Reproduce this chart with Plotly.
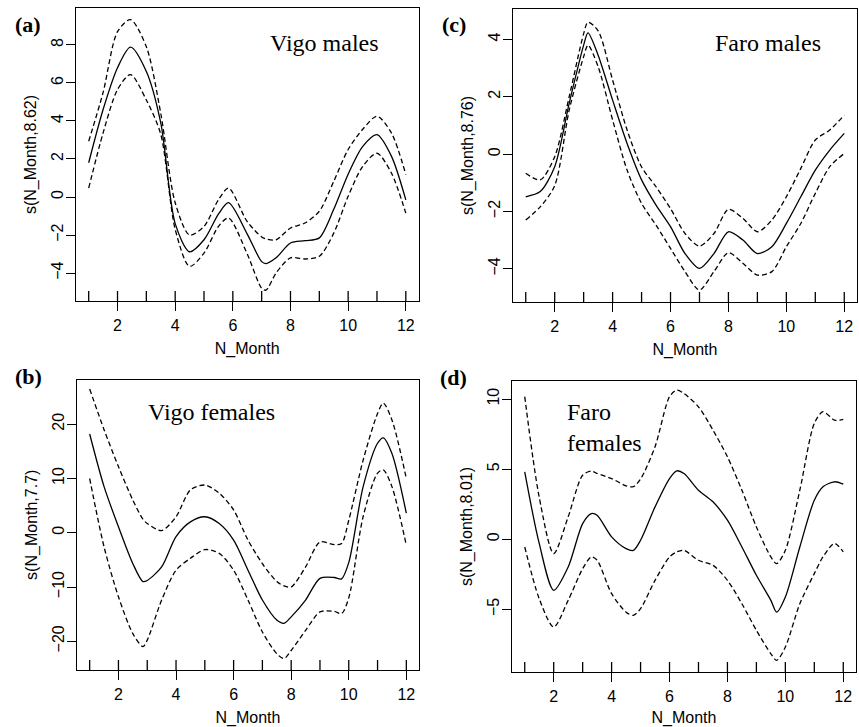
import plotly.graph_objects as go

# ---------------------------------------------------------------------------
# GAM smooth terms of N_Month with +/- 2 SE bands for four sample groups
# ---------------------------------------------------------------------------

# (a) Vigo males
A_MONTH = [1, 1.5, 2, 2.45, 3, 3.5, 4, 4.5, 5, 5.5, 5.85, 6.5, 7, 7.15, 7.5, 8,
           8.5, 9, 9.5, 10, 10.5, 11, 11.5, 12]
A_FIT = [1.8, 4.6, 6.8, 7.88, 6.6, 3.9, -1.4, -2.88, -2.25, -0.9, -0.3, -1.95,
         -3.4, -3.5, -3.2, -2.42, -2.3, -2.15, -0.65, 1.2, 2.65, 3.28, 2.15, -0.15]
A_UPPER = [2.93, 5.5, 8.7, 9.33, 7.9, 4.4, -0.3, -2.0, -1.55, -0.15, 0.47, -1.3,
           -2.1, -2.2, -2.25, -1.63, -1.37, -0.75, 0.82, 2.5, 3.55, 4.25, 3.37, 1.18]
A_LOWER = [0.47, 3.37, 5.65, 6.44, 5.1, 3.3, -1.7, -3.65, -2.95, -1.55, -1.1, -3.0,
           -4.8, -4.9, -4.0, -3.2, -3.26, -3.12, -1.9, 0.04, 1.6, 2.3, 1.26, -0.85]

# (c) Faro males
C_MONTH = [1, 1.5, 2, 2.5, 3, 3.15, 3.5, 4, 4.5, 5, 5.5, 6, 6.5, 7, 7.5, 8, 8.5,
           9, 9.5, 10, 10.5, 11, 11.5, 12]
C_FIT = [-1.49, -1.31, -0.44, 1.77, 3.8, 4.23, 3.45, 1.88, 0.37, -0.9, -1.78, -2.53,
         -3.47, -3.99, -3.47, -2.71, -3.0, -3.47, -3.23, -2.42, -1.49, -0.56, 0.14, 0.72]
C_UPPER = [-0.67, -0.9, -0.09, 2.0, 4.2, 4.6, 4.3, 2.58, 0.84, -0.45, -1.14, -1.9,
           -2.77, -3.21, -2.77, -1.93, -2.24, -2.71, -2.3, -1.49, -0.5, 0.49, 0.84, 1.36]
C_LOWER = [-2.3, -1.84, -1.1, 1.53, 3.4, 3.8, 3.05, 1.19, -0.56, -1.72, -2.48, -3.29,
           -4.1, -4.74, -4.1, -3.44, -3.81, -4.22, -4.1, -3.23, -2.42, -1.37, -0.44, 0.02]

# (b) Vigo females
B_MONTH = [1, 1.5, 2, 2.5, 2.85, 3, 3.5, 4, 4.5, 5, 5.5, 6, 6.5, 7, 7.5, 7.75, 8,
           8.5, 9, 9.5, 9.75, 10, 10.5, 11, 11.2, 11.5, 12]
B_FIT = [18.2, 8.5, 1.1, -5.7, -9.0, -8.8, -6.3, -0.7, 2.0, 2.95, 1.7, -1.35, -6.9,
         -12.4, -16.1, -16.7, -15.5, -12.4, -8.4, -8.25, -8.5, -5.5, 8.5, 16.5, 17.5,
         14.6, 3.6]
B_UPPER = [26.5, 19.0, 12.2, 6.0, 2.5, 1.7, 0.4, 2.95, 7.9, 8.8, 7.3, 4.2, -1.35,
           -5.7, -9.0, -9.8, -10.0, -6.3, -1.7, -2.2, -2.0, 2.3, 13.4, 22.0, 23.9,
           20.8, 10.0]
B_LOWER = [10.0, -2.6, -11.8, -18.6, -21.0, -19.8, -12.4, -6.9, -4.7, -3.1, -3.8,
           -6.9, -12.4, -18.3, -22.3, -23.2, -21.7, -18.0, -14.6, -14.5, -14.9, -12.0,
           3.0, 11.0, 11.6, 8.5, -2.3]

# (d) Faro females
D_MONTH = [1, 1.5, 2, 2.5, 3, 3.3, 3.5, 4, 4.5, 4.75, 5, 5.5, 6, 6.25, 6.5, 7, 7.5,
           8, 8.5, 9, 9.5, 9.7, 10, 10.5, 11, 11.3, 11.7, 12]
D_FIT = [4.8, -0.3, -3.64, -1.98, 1.12, 1.83, 1.71, 0.17, -0.67, -0.8, -0.07, 2.31,
         4.33, 4.88, 4.69, 3.5, 2.67, 1.36, -0.55, -2.57, -4.36, -5.2, -4.12, -0.55,
         2.79, 3.75, 4.1, 3.93]
D_UPPER = [10.17, 3.0, -1.02, 1.6, 4.57, 4.86, 4.69, 4.33, 3.81, 3.75, 4.3, 6.6,
           10.17, 10.64, 10.4, 9.45, 7.79, 5.88, 3.5, 0.88, -1.26, -1.74, -0.79, 3.5,
           8.26, 9.1, 8.5, 8.55]
D_LOWER = [-0.55, -4.24, -6.26, -4.36, -2.1, -1.26, -1.5, -3.88, -5.2, -5.43, -4.95,
           -2.93, -1.26, -0.9, -0.79, -1.5, -1.86, -2.93, -4.6, -6.5, -8.17, -8.64,
           -7.69, -4.6, -2.45, -1.26, -0.3, -0.9]

RUG_MONTHS = list(range(1, 13))
X_TICKS = [2, 4, 6, 8, 10, 12]
Y_TICKS = {
    "a": [-4, -2, 0, 2, 4, 6, 8],
    "c": [-4, -2, 0, 2, 4],
    "b": [-20, -10, 0, 10, 20],
    "d": [-5, 0, 5, 10],
}
Y_TITLES = {
    "a": "s(N_Month,8.62)",
    "c": "s(N_Month,8.76)",
    "b": "s(N_Month,7.7)",
    "d": "s(N_Month,8.01)",
}

W, H = 859, 727
SANS = "Liberation Sans, Arial, sans-serif"
SERIF = "Liberation Serif, Times New Roman, serif"

# panel boxes in pixels: left, right, top, bottom ; y-range
PANELS = {
    "a": dict(box=(76, 418.5, 8, 301), yr=(-5.47, 9.94), idx=1,
              data=(A_MONTH, A_FIT, A_UPPER, A_LOWER)),
    "c": dict(box=(513, 857, 9, 302), yr=(-5.16, 5.06), idx=2,
              data=(C_MONTH, C_FIT, C_UPPER, C_LOWER)),
    "b": dict(box=(77, 419, 379.5, 670), yr=(-25.3, 28.25), idx=3,
              data=(B_MONTH, B_FIT, B_UPPER, B_LOWER)),
    "d": dict(box=(512, 856, 381, 672), yr=(-9.47, 11.29), idx=4,
              data=(D_MONTH, D_FIT, D_UPPER, D_LOWER)),
}

fig = go.Figure()
layout = {}
shapes = []

for key, p in PANELS.items():
    i = p["idx"]
    xa = "x" if i == 1 else f"x{i}"
    ya = "y" if i == 1 else f"y{i}"
    xname = "xaxis" if i == 1 else f"xaxis{i}"
    yname = "yaxis" if i == 1 else f"yaxis{i}"
    l, r, t, b = p["box"]
    months, fit, upper, lower = p["data"]

    for series, dash in ((upper, "5px,3px"), (lower, "5px,3px"), (fit, "solid")):
        fig.add_trace(go.Scatter(
            x=months, y=series, mode="lines", xaxis=xa, yaxis=ya,
            line=dict(color="black", width=1.3, dash=dash, shape="spline",
                      smoothing=0.8),
            showlegend=False, hoverinfo="skip"))

    layout[xname] = dict(
        domain=[l / W, r / W], range=[0.56, 12.44], anchor=ya,
        tickmode="array", tickvals=X_TICKS, ticks="outside", ticklen=9,
        tickwidth=1, tickcolor="black", showgrid=False, zeroline=False,
        showline=True, mirror=True, linecolor="black", linewidth=1.4,
        tickfont=dict(family=SANS, size=16, color="black"),
        ticklabelstandoff=1, automargin=False,
        title=dict(text="N_Month", font=dict(family=SANS, size=16, color="black"),
                   standoff=9),
    )
    layout[yname] = dict(
        domain=[1 - b / H, 1 - t / H], range=list(p["yr"]), anchor=xa,
        tickmode="array", tickvals=Y_TICKS[key], ticks="outside", ticklen=9,
        tickwidth=1, tickcolor="black", showgrid=False, zeroline=False,
        showline=True, mirror=True, linecolor="black", linewidth=1.4,
        tickangle=-90, tickfont=dict(family=SANS, size=16, color="black"),
        ticklabelstandoff=-4, automargin=False,
        title=dict(text=Y_TITLES[key], font=dict(family=SANS, size=16, color="black"),
                   standoff=8),
    )

    # rug of observed months along the bottom of each panel
    for m in RUG_MONTHS:
        shapes.append(dict(type="line", xref=xa, yref=f"{ya} domain",
                           x0=m, x1=m, y0=0, y1=10 / (b - t),
                           line=dict(color="black", width=1.3)))

annotations = [
    dict(text="<b>(a)</b>", x=13, y=24, font=dict(family=SERIF, size=22)),
    dict(text="<b>(c)</b>", x=440, y=24, font=dict(family=SERIF, size=22)),
    dict(text="<b>(b)</b>", x=13, y=376, font=dict(family=SERIF, size=22)),
    dict(text="<b>(d)</b>", x=438, y=377, font=dict(family=SERIF, size=22)),
    dict(text="Vigo males", x=268, y=43, font=dict(family=SERIF, size=24)),
    dict(text="Faro males", x=713, y=43, font=dict(family=SERIF, size=24)),
    dict(text="Vigo females", x=146, y=412, font=dict(family=SERIF, size=24)),
    dict(text="Faro<br>females", x=565, y=428, font=dict(family=SERIF, size=24)),
]
for ann in annotations:
    ann.update(xref="paper", yref="paper", xanchor="left", yanchor="middle",
               showarrow=False, align="left")
    ann["font"]["color"] = "black"
    ann["x"] = ann["x"] / W
    ann["y"] = 1 - ann["y"] / H

fig.update_layout(
    width=W, height=H, margin=dict(l=0, r=0, t=0, b=0),
    paper_bgcolor="white", plot_bgcolor="white",
    shapes=shapes, annotations=annotations, **layout)

fig.write_html("out.html")
